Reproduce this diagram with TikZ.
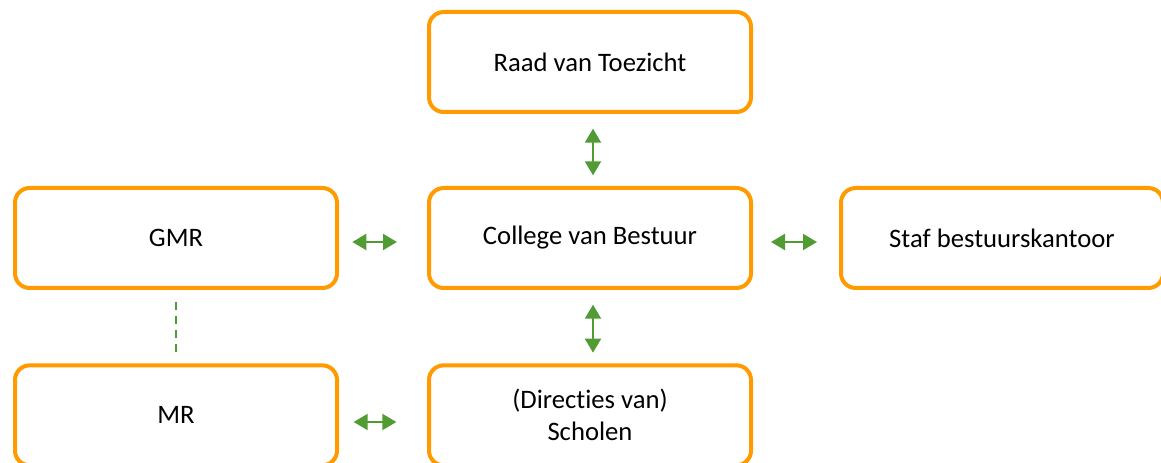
\documentclass[tikz,border=0pt]{standalone}
\usepackage{fontspec}
\setmainfont{Carlito}[Ligatures=NoCommon]
\usetikzlibrary{arrows.meta,positioning}

\definecolor{boxorange}{RGB}{255,155,0}
\definecolor{linkgreen}{RGB}{80,155,50}

\begin{document}
\begin{tikzpicture}[
  x=0.75pt, y=-0.75pt,
  font=\fontsize{20}{24}\selectfont,
  box/.style={draw=boxorange, line width=3pt, rounded corners=11pt, align=center,
    minimum width=241.5pt, minimum height=75pt, inner sep=3pt},
  arrow/.style={{Triangle[width=12pt,length=10.5pt]}-{Triangle[width=12pt,length=10.5pt]},
    draw=linkgreen, fill=linkgreen, line width=1.5pt},
  dashline/.style={draw=linkgreen, line width=1.5pt, dash pattern=on 6pt off 4.5pt}
]
\useasboundingbox (0,0) rectangle (1161,463);

\node[box] (cvb) at (590,238) {College van Bestuur};
\node[box, above=54pt of cvb] (raad) {Raad van Toezicht};
\node[box, left=66pt of cvb] (gmr) {GMR};
\node[box, right=64.5pt of cvb] (staf) {Staf bestuurskantoor};
\node[box, below=55pt of cvb] (dir) {(Directies van)\\Scholen};
\node[box, below=55pt of gmr] (mr) {MR};

\draw[arrow, shorten <=11pt, shorten >=8pt] ([xshift=2.25pt]raad.south) -- ([xshift=2.25pt]cvb.north);
\draw[arrow, shorten <=11pt, shorten >=8pt] ([xshift=2.25pt]cvb.south) -- ([xshift=2.25pt]dir.north);
\draw[arrow, shorten <=10pt, shorten >=22.5pt] ([yshift=-3pt]gmr.east) -- ([yshift=-3pt]cvb.west);
\draw[arrow, shorten <=13.5pt, shorten >=16.5pt] ([yshift=-3pt]cvb.east) -- ([yshift=-3pt]staf.west);
\draw[arrow, shorten <=11pt, shorten >=23pt] ([yshift=-5pt]mr.east) -- ([yshift=-5pt]dir.west);
\draw[dashline, shorten <=9pt, shorten >=7.5pt] (gmr.south) -- (mr.north);
\end{tikzpicture}
\end{document}
